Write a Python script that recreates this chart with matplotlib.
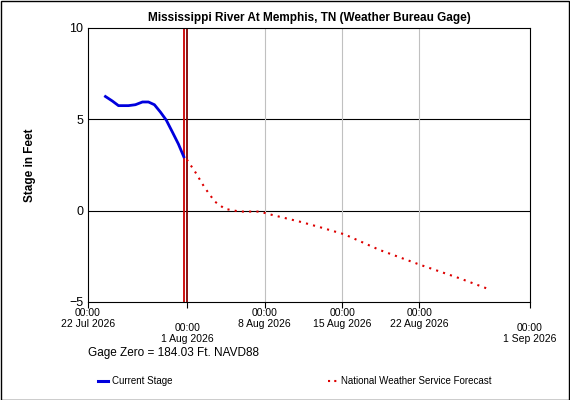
import datetime as dt
import matplotlib
matplotlib.use("Agg")
import matplotlib.pyplot as plt
import matplotlib.dates as mdates

plt.rcParams["font.family"] = ["Liberation Sans", "DejaVu Sans"]

# observed stage (days offset from 1 Aug 00:00, feet)
obs_days = [-7.41, -6.78, -6.23, -5.33, -4.70, -4.06, -3.52, -2.98, -2.44, -1.90, -1.35, -0.81, -0.32]
obs_stage = [6.25, 6.0, 5.75, 5.75, 5.8, 5.95, 5.95, 5.8, 5.4, 4.95, 4.3, 3.65, 2.95]
# NWS forecast
fc_days = [-0.05, 0.68, 1.58, 2.48, 3.39, 4.74, 6.55, 7.45, 10.16, 11.97, 14.23, 17.39, 21.0, 24.62, 27.06]
fc_stage = [2.8, 2.15, 1.25, 0.5, 0.1, -0.05, -0.05, -0.2, -0.6, -0.9, -1.3, -2.15, -2.95, -3.7, -4.25]

base = dt.datetime(2026, 8, 1)
obs_t = [base + dt.timedelta(days=d) for d in obs_days]
fc_t = [base + dt.timedelta(days=d) for d in fc_days]

fig = plt.figure(figsize=(5.7, 4.0), dpi=100)
fig.patches.append(plt.Rectangle((0.001, 0.001), 0.997, 0.997, transform=fig.transFigure,
                                 fill=False, edgecolor="black", linewidth=1))
ax = fig.add_axes([88 / 570, 98 / 400, 442 / 570, 274 / 400])

x0 = base - dt.timedelta(days=187.5 / 11.07 - 88 / 11.07)
x1 = base + dt.timedelta(days=31)
ax.set_xlim(x0, x1)
ax.set_ylim(-5, 10)
ax.set_yticks([-5, 0, 5, 10])
ax.tick_params(axis="y", labelsize=9, length=0)
for y in [0, 5]:
    ax.axhline(y, color="black", linewidth=0.8)
for d in [7, 14, 21]:
    ax.axvline(base + dt.timedelta(days=d), color="#c0c0c0", linewidth=0.8)

ax.axvline(base - dt.timedelta(days=0.32), color="#cc0000", linewidth=1.3)
ax.axvline(base - dt.timedelta(days=0.05), color="#800000", linewidth=1.3)

ax.plot(obs_t, obs_stage, color="#0000dd", linewidth=2.0)
ax.plot(fc_t, fc_stage, color="#dd0000", linewidth=1.5, linestyle=(0, (1, 2.5)))

ax.set_xticks([x0, base, base + dt.timedelta(days=7), base + dt.timedelta(days=14),
               base + dt.timedelta(days=21), x1])
ax.set_xticklabels([])
ax.tick_params(axis="x", length=4)
labels = [(x0, "22 Jul 2026", False), (base, "1 Aug 2026", True),
          (base + dt.timedelta(days=7), "8 Aug 2026", False),
          (base + dt.timedelta(days=14), "15 Aug 2026", False),
          (base + dt.timedelta(days=21), "22 Aug 2026", False),
          (x1, "1 Sep 2026", True)]
for t, lab, low in labels:
    yoff = -15 if low else -4.5
    ax.annotate("00:00\n" + lab, (mdates.date2num(t), -5), xytext=(0, yoff),
                textcoords="offset points", ha="center", va="top", fontsize=7.5,
                linespacing=1.1, annotation_clip=False)

ax.set_title("Mississippi River At Memphis, TN (Weather Bureau Gage)",
             fontsize=8.5, fontweight="bold", pad=5)
ax.set_ylabel("Stage in Feet", fontsize=8.5, fontweight="bold", labelpad=24)

fig.text(88 / 570, 1 - 353 / 400, "Gage Zero = 184.03 Ft. NAVD88", fontsize=8.5, va="center")
fig.lines.append(plt.Line2D([98 / 570, 108 / 570], [1 - 381 / 400] * 2, color="#0000dd",
                            linewidth=2.2, transform=fig.transFigure))
fig.text(112 / 570, 1 - 381 / 400, "Current Stage", fontsize=7, va="center")
fig.lines.append(plt.Line2D([328 / 570, 338 / 570], [1 - 381 / 400] * 2, color="#dd0000",
                            linewidth=1.5, linestyle=(0, (1, 2)), transform=fig.transFigure))
fig.text(341 / 570, 1 - 381 / 400, "National Weather Service Forecast", fontsize=7, va="center")

fig.savefig("out.png", dpi=100)
